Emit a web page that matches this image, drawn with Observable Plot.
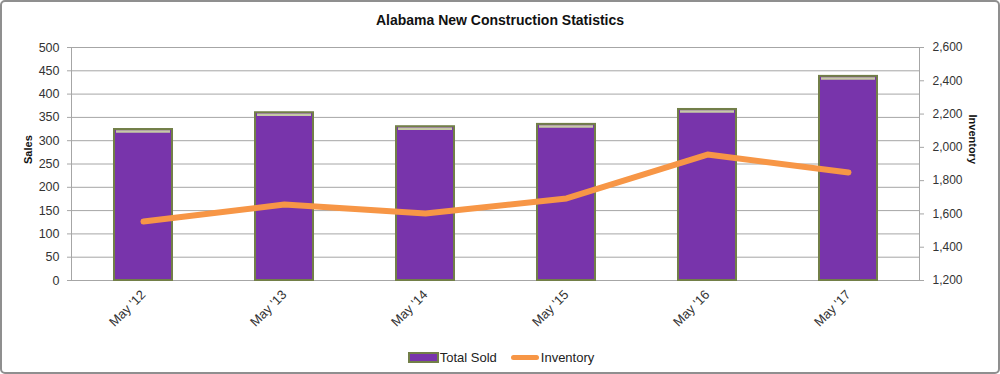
<!DOCTYPE html>
<html>
<head>
<meta charset="utf-8">
<script src="https://cdn.jsdelivr.net/npm/d3@7"></script>
<script src="https://cdn.jsdelivr.net/npm/@observablehq/plot@0.6"></script>
<style>
  html, body { margin: 0; padding: 0; background: #fff; }
  #wrap { position: relative; width: 1000px; height: 374px; overflow: hidden; font-family: "Liberation Sans", Arial, sans-serif; color: #222; }
  #border { position: absolute; left: 0; top: 0; width: 1000px; height: 374px; box-sizing: border-box; border: 2px solid #8f8f8f; border-radius: 5px; pointer-events: none; }
  #title { height: 40px; box-sizing: border-box; padding-top: 12px; line-height: 17px; text-align: center; font-weight: bold; font-size: 14px; color: #111; }
  #chart svg { display: block; }
  #legend { height: 34px; display: flex; justify-content: center; align-items: center; font-size: 13px; color: #222; padding-left: 2px; }
  .sw-bar { width: 27px; height: 7px; background: #7834AB; border: 2px solid #727f48; margin-right: 1px; }
  .sw-line { width: 28px; height: 5px; background: #F79646; border-radius: 3px; margin-left: 14px; margin-right: 2px; }
</style>
</head>
<body>
<div id="wrap">
  <div id="title">Alabama New Construction Statistics</div>
  <div id="chart"></div>
  <div id="legend"><span class="sw-bar"></span><span>Total Sold</span><span class="sw-line"></span><span>Inventory</span></div>
  <div id="border"></div>
</div>
<script>
const categories = ["May '12", "May '13", "May '14", "May '15", "May '16", "May '17"];
const totalSold = [324, 360, 330, 335, 367, 438];
const inventory = [1554, 1657, 1603, 1693, 1957, 1849];
const salesTicks = [0, 50, 100, 150, 200, 250, 300, 350, 400, 450, 500];
const inventoryTicks = [1200, 1400, 1600, 1800, 2000, 2200, 2400, 2600];

const salesMax = 500, invMin = 1200, invMax = 2600;
const invToSales = v => (v - invMin) / (invMax - invMin) * salesMax;
const salesToInv = v => v / salesMax * (invMax - invMin) + invMin;

const data = categories.map((c, i) => ({ cat: c, sold: totalSold[i], inv: inventory[i] }));

const chart = Plot.plot({
  width: 1000,
  height: 300,
  marginLeft: 71,
  marginRight: 81,
  marginTop: 7,
  marginBottom: 60,
  style: { fontFamily: "'Liberation Sans', Arial, sans-serif", fontSize: "12px", color: "#333", background: "transparent" },
  x: { domain: categories, paddingInner: 0.59, paddingOuter: 0.295, label: null },
  y: { domain: [0, salesMax], label: null },
  marks: [
    Plot.gridY(salesTicks, { stroke: "#a6a6a6", strokeOpacity: 1, strokeWidth: 1 }),
    Plot.frame({ stroke: "#a6a6a6", strokeWidth: 1 }),
    Plot.barY(data, { x: "cat", y: "sold", fill: "#7834AB", stroke: "#727f48", strokeWidth: 2 }),
    Plot.tickY(data, { x: "cat", y: "sold", stroke: "#c6c9a6", strokeWidth: 2.5, dy: 2, inset: 2 }),
    Plot.lineY(data, { x: "cat", y: d => invToSales(d.inv), stroke: "#F79646", strokeWidth: 6, strokeLinecap: "round", strokeLinejoin: "round" }),
    Plot.axisY(salesTicks, { anchor: "left", tickSize: 4, tickPadding: 8, stroke: "#a6a6a6", label: null, fontSize: 12.5, fill: "#333" }),
    Plot.axisY(inventoryTicks.map(invToSales), { anchor: "right", tickSize: 4, tickPadding: 9, stroke: "#a6a6a6", label: null, tickFormat: d => d3.format(",")(Math.round(salesToInv(d))), fontSize: 12, fill: "#333" }),
    Plot.axisX({ tickRotate: -45, tickSize: 0, tickPadding: 12, label: null, fontSize: 13, fill: "#333" }),
    Plot.text(["Sales"], { frameAnchor: "left", dx: -43, rotate: -90, fontWeight: "bold", fontSize: 11, fill: "#111" }),
    Plot.text(["Inventory"], { frameAnchor: "right", dx: 53, rotate: 90, fontWeight: "bold", fontSize: 11, fill: "#111" })
  ]
});
document.getElementById("chart").appendChild(chart);
</script>
</body>
</html>
